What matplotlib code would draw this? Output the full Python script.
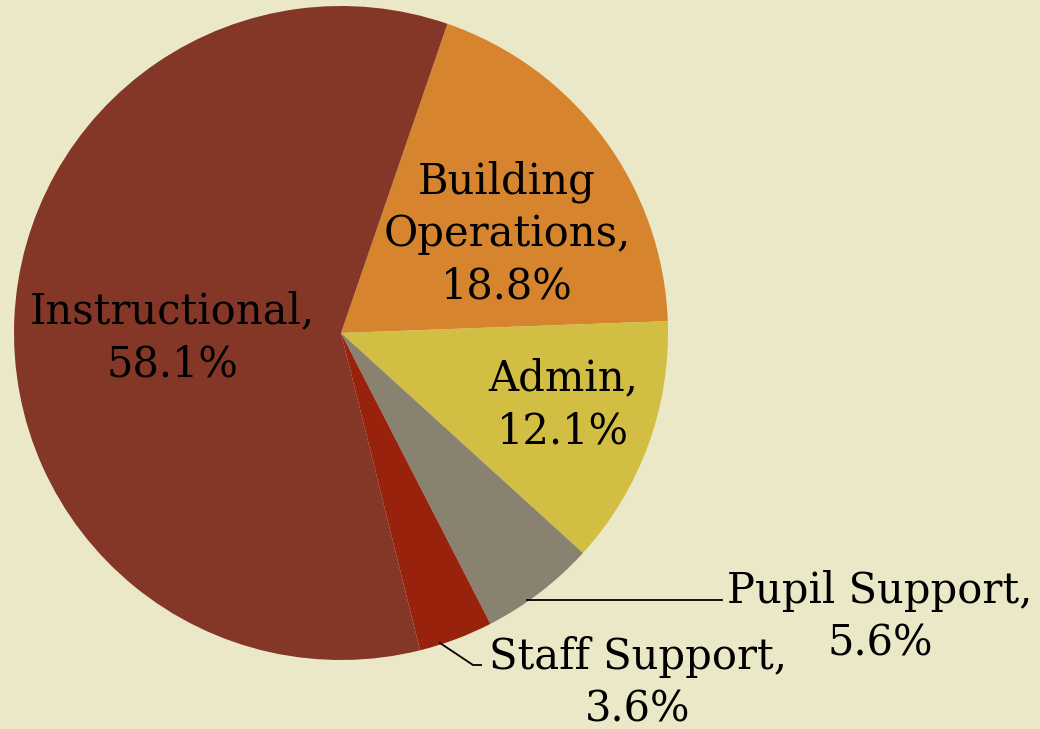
import matplotlib
matplotlib.use("Agg")
import matplotlib.pyplot as plt

# data (as labelled)
categories = ["Building\nOperations", "Admin", "Pupil Support", "Staff Support", "Instructional"]
percents = [18.8, 12.1, 5.6, 3.6, 58.1]
colors = ["#D6852E", "#D1BE42", "#8A8270", "#99220D", "#843627"]
bg = "#EBE8C8"

fig = plt.figure(figsize=(10.4, 7.29), dpi=100, facecolor=bg)
ax = fig.add_axes([0, 0, 1, 1])
ax.set_facecolor(bg)

H = 729
cx, cy, r = 341, H - 333, 327
ax.pie(percents, colors=colors, startangle=71, counterclock=False,
       center=(cx, cy), radius=r, frame=True,
       wedgeprops=dict(linewidth=0))
ax.set_xlim(0, 1040)
ax.set_ylim(0, 729)
ax.set_aspect("equal")
ax.axis("off")

font = dict(family="DejaVu Serif", fontsize=30, color="black",
            ha="center", va="center", linespacing=1.32)

def lab(name, pct):
    return name + ",\n" + ("%.1f%%" % pct)

ax.text(172, H - 338, lab(categories[4], percents[4]), **font)
ax.text(507, H - 234, lab(categories[0], percents[0]), **font)
ax.text(563, H - 405, lab(categories[1], percents[1]), **font)
ax.text(880, H - 617, lab(categories[2], percents[2]), **font)
ax.text(638, H - 683, lab(categories[3], percents[3]), **font)

# leader lines
ax.plot([527, 722], [H - 600, H - 600], color="black", lw=1.3)
ax.plot([440, 473, 481], [H - 643, H - 665, H - 665], color="black", lw=1.3)

fig.savefig("out.png", dpi=100, facecolor=bg)
